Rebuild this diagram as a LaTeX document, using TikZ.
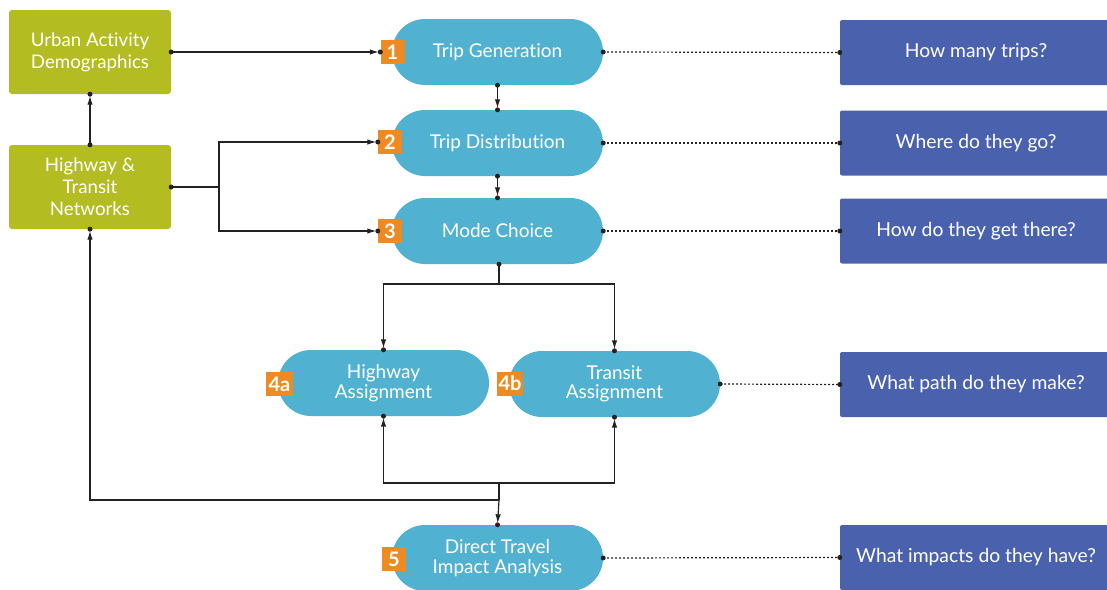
\documentclass[tikz,border=0pt]{standalone}
\usepackage{fontspec}
\setmainfont{Lato}[Ligatures={NoCommon,NoContextual}, Contextuals=NoAlternate]
\usetikzlibrary{arrows.meta}
\definecolor{inputgreen}{HTML}{B3BC20}
\definecolor{stepblue}{HTML}{50B2D0}
\definecolor{askblue}{HTML}{4A62AE}
\definecolor{numorange}{HTML}{EE8A22}
\definecolor{wire}{HTML}{222222}
\tikzset{
  inputbox/.style={fill=inputgreen, rounded corners=3pt, minimum width=162pt, minimum height=84pt,
    text=white, align=center, font=\fontsize{18.7}{22}\selectfont},
  stepbox/.style={fill=stepblue, rounded corners=33pt, minimum width=211pt, minimum height=66pt,
    text=white, align=center, font=\fontsize{19}{19.5}\selectfont},
  askbox/.style={fill=askblue, rounded corners=2pt, minimum width=272pt, minimum height=65pt,
    text=white, align=center, font=\fontsize{19.3}{20}\selectfont},
  numtag/.style={fill=numorange, minimum height=24pt, minimum width=24pt, inner sep=1pt,
    text=white, font=\fontsize{20}{18}\selectfont\bfseries},
  conn/.style={draw=wire, line width=1.2pt},
  arr/.style={conn, -{Latex[length=9pt,width=5.5pt]}, shorten >=1.5pt},
  hint/.style={draw=wire, line width=1.2pt, dash pattern=on 2pt off 2pt},
}
\newcommand{\joint}[1]{\fill[wire] (#1) circle (2.5pt);}
\begin{document}
\begin{tikzpicture}[x=1pt,y=-1pt]
\useasboundingbox (0,0) rectangle (1107,589);

% inputs
\node[inputbox] (urban) at (90,52) {Urban Activity\\Demographics};
\node[inputbox] (nets) at (90,187) {Highway \&\\Transit\\Networks};

% model steps
\node[stepbox] (gen) at (497.5,52) {Trip Generation};
\node[stepbox] (dist) at (497.5,143) {Trip Distribut\kern0pt ion};
\node[stepbox] (mode) at (497.5,231) {Mode Choice};
\node[stepbox] (hwy) at (383.5,383) {Highway\\Assignment};
\node[stepbox] (trn) at (614.5,384) {Transit\\Assignment};
\node[stepbox] (imp) at (497.5,558) {Direct Travel\\Impact Analysis};

% step numbers
\node[numtag] (t1) at (392.5,52) {1};
\node[numtag] (t2) at (390,142) {2};
\node[numtag] (t3) at (390,231) {3};
\node[numtag, minimum width=27pt] (t4a) at (279.5,384) {4a};
\node[numtag, minimum width=26pt] (t4b) at (510,383.5) {4b};
\node[numtag] (t5) at (394,559) {5};

% questions
\node[askbox] (q1) at (976,52.5) {How many trips?};
\node[askbox] (q2) at (976,143) {Where do they go?};
\node[askbox] (q3) at (976,231) {How do they get there?};
\node[askbox] (q4) at (976,384.5) {What path do they make?};
\node[askbox] (q5) at (976,557.5) {What impacts do they have?};

% junctions of the flow lines
\coordinate (netsplit) at (219,187);
\coordinate (modesplit) at (499,284);
\coordinate (asgjoin) at (499,483);
\coordinate (backjoin) at (499,500);

% input flows
\draw[arr] (urban.east) -- (t1.west);
\joint{urban.east} \joint{t1.west}
\draw[arr] (nets.north) -- (urban.south);
\joint{nets.north} \joint{urban.south}
\draw[conn] (nets.east) -- (netsplit);
\draw[arr] (netsplit) |- (t2.west);
\draw[arr] (netsplit) |- (t3.west);
\joint{nets.east} \joint{t2.west} \joint{t3.west}

% step sequence
\draw[arr] (gen.south) -- (dist.north);
\joint{gen.south} \joint{dist.north}
\draw[arr] (dist.south) -- (mode.north);
\joint{dist.south} \joint{mode.north}
\draw[conn] (mode.south -| modesplit) -- (modesplit);
\draw[arr] (modesplit) -| (hwy.north);
\draw[arr] (modesplit) -| (trn.north);
\joint{mode.south -| modesplit} \joint{hwy.north} \joint{trn.north}

% feedback and impact
\draw[arr] (asgjoin) -| (hwy.south);
\draw[arr] (asgjoin) -| (trn.south);
\draw[conn] (asgjoin) -- (backjoin);
\draw[arr] (backjoin) -- (imp.north);
\draw[arr] (backjoin) -| (nets.south);
\joint{hwy.south} \joint{trn.south} \joint{imp.north} \joint{nets.south}

% question links
\draw[hint] (gen.east) -- (q1.west); \joint{gen.east} \joint{q1.west}
\draw[hint] (dist.east) -- (q2.west); \joint{dist.east} \joint{q2.west}
\draw[hint] (mode.east) -- (q3.west); \joint{mode.east} \joint{q3.west}
\draw[hint] (trn.east) -- (q4.west); \joint{trn.east} \joint{q4.west}
\draw[hint] (imp.east) -- (q5.west); \joint{imp.east} \joint{q5.west}
\end{tikzpicture}
\end{document}
